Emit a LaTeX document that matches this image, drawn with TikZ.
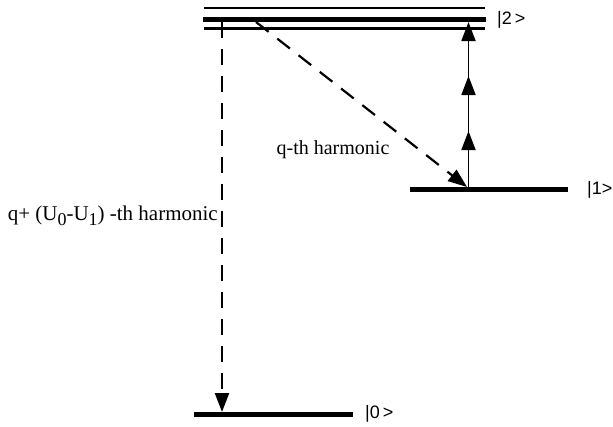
\documentclass[tikz,border=0pt]{standalone}
\usepackage{fontspec}
\setmainfont{Liberation Serif}
\newfontfamily\labfont{Liberation Sans}
\usetikzlibrary{arrows.meta,decorations.markings}
\newcommand{\lowsub}[1]{\raisebox{-4.5pt}{\fontsize{18}{18}\selectfont #1}}
\begin{document}
\begin{tikzpicture}[x=1pt,y=-1pt,
  level/.style={line width=5pt},
  thinlevel/.style={line width=2.2pt},
  tip/.style={-{Triangle[length=19pt,width=14pt]}},
  dasharrow/.style={line width=2.2pt,dash pattern=on 16pt off 11pt,tip},
  solidarrow/.style={line width=1.8pt,tip,
    postaction={decorate,decoration={markings,
      mark=at position 56pt with {\arrow{Triangle[length=19pt,width=14pt]}},
      mark=at position 111pt with {\arrow{Triangle[length=19pt,width=14pt]}}}}},
  ketlabel/.style={font=\labfont\fontsize{18}{18}\selectfont,anchor=west,inner sep=0pt},
  harmlabel/.style={font=\fontsize{20}{20}\selectfont,inner sep=0pt}
]
\useasboundingbox (0,0) rectangle (613,426);
% levels
\draw[thinlevel] (204,8) -- (485,8);
\draw[level] (203,19.5) -- (486,19.5);
\draw[thinlevel] (204,28.5) -- (485,28.5);
\draw[level] (410,189.5) -- (568,189.5);
\draw[level] (194,414.5) -- (353,414.5);
% labels
\node[ketlabel] (k2) at (497,20) {|2\,>};
\node[ketlabel] (k1) at (587,190) {|1>};
\node[ketlabel] (k0) at (365,414) {|0\,>};
% named points
\coordinate (s2a) at (222,22);
\coordinate (e0) at (222,412);
\coordinate (s2b) at (256,22);
\coordinate (e1) at (467,187);
\coordinate (s1) at (468.5,187);
\coordinate (e2) at (468.5,22);
% transitions
\draw[dasharrow] (s2a) -- (e0);
\draw[dasharrow] (s2b) -- (e1);
\draw[solidarrow] (s1) -- (e2);
\node[harmlabel] (qh) at (333,150) {q-th harmonic};
\node[harmlabel,anchor=east,font=\fontsize{21}{21}\selectfont] (qu) at (218,216) {q+ (U\lowsub{0}-U\lowsub{1}) -th harmonic};
\end{tikzpicture}
\end{document}
